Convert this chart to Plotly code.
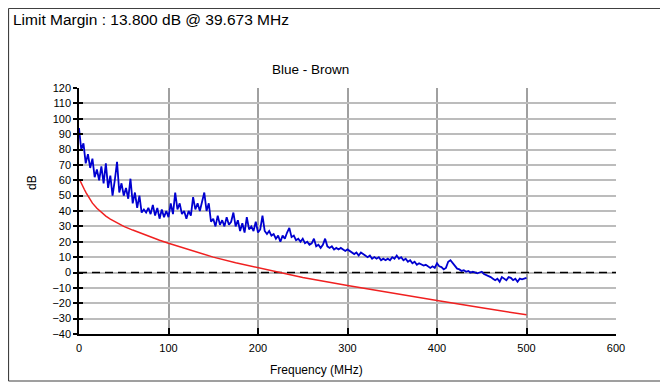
import numpy as np
import plotly.graph_objects as go

# Measured trace (Blue - Brown pair), sampled every 2.5 MHz from 0 to 500 MHz
blue_db = [
    94, 80, 84, 71, 77, 68, 74, 62, 67, 60,
    69, 58, 71, 55, 63, 50, 60, 72, 52, 58,
    50, 55, 48, 61, 45, 52, 42, 50, 39, 41,
    39, 42, 38, 44, 37, 42, 35, 41, 36, 40,
    36, 45, 38, 52, 41, 45, 38, 40, 35, 40,
    37, 49, 41, 45, 40, 47, 52, 40, 45, 33,
    35, 30, 37, 31, 34, 30, 36, 31, 33, 39,
    30, 34, 27, 32, 26, 36, 28, 30, 27, 33,
    26, 28, 37, 27, 25, 27, 24, 25, 22, 24,
    20, 24, 22, 26, 29, 23, 24, 21, 22, 20,
    22, 19, 20, 18, 19, 22, 17, 18, 16, 18,
    22, 17, 16, 17, 15, 16, 15, 16, 15, 14,
    15, 14, 13, 12, 13, 11, 13, 12, 11, 10,
    11, 9, 10, 9, 10, 8, 9, 8, 9, 8,
    10, 9, 11, 9, 10, 8, 9, 7, 8, 6,
    7, 5, 6, 5, 4.5, 5, 4, 3, 4, 3,
    6, 4, 3.5, 2, 3, 7, 8, 6, 4, 2.5,
    2, 1, 1.5, 0.5, 1, 0, 0.5, 0, -0.5, 0,
    0.5, -1, -1.5, -2.5, -3, -4, -5, -4, -6, -3,
    -4, -5, -3, -3.5, -5, -4, -6, -4, -4.5, -4,
    -3.5,
]
blue_freq = np.linspace(0, 500, len(blue_db))

# Limit line
limit_freq = [1, 2, 4, 6, 8, 10, 12.5, 15, 20, 25, 30, 35, 40, 50, 60, 70,
              80, 90, 100, 125, 150, 175, 200, 225, 250, 300, 350, 400, 450, 500]
limit_db = [60, 58.6, 56.2, 54, 51.8, 49.6, 47.2, 45.1, 41.8, 39, 36.7, 34.7,
            33, 30, 27.6, 25.3, 23.1, 21, 19, 14.3, 10, 6.3, 3, -0.3, -3.2,
            -8.5, -13.5, -18.2, -23, -27.5]

# Zero reference
ref_freq = [0, 600]
ref_db = [0, 0]

x_ticks = [0, 100, 200, 300, 400, 500, 600]
y_ticks = list(range(-40, 121, 10))

# page body has an 8px margin, so work in screen pixels minus that offset
OFF = 8
W, H = 668 - OFF, 384 - OFF
L, R, T, B = 79 - OFF, 52, 88 - OFF, 50
pw, ph = W - L - R, H - T - B


def px(x):
    return (x - OFF - L) / pw


def py(y):
    return (H - B - (y - OFF)) / ph


font = "Liberation Sans, Arial, sans-serif"

fig = go.Figure()
fig.add_trace(go.Scatter(x=ref_freq, y=ref_db, mode="lines",
                         line=dict(color="black", width=1.5, dash="8px,5px"),
                         hoverinfo="skip"))
fig.add_trace(go.Scatter(x=limit_freq, y=limit_db, mode="lines",
                         line=dict(color="#f02020", width=1.5)))
fig.add_trace(go.Scatter(x=blue_freq, y=blue_db, mode="lines",
                         line=dict(color="#0000d0", width=1.8)))
# inner tick stubs on the y axis
fig.add_trace(go.Scatter(x=[None], y=[None], yaxis="y2", showlegend=False))

fig.update_layout(
    width=W, height=H,
    margin=dict(l=L, r=R, t=T, b=B),
    showlegend=False,
    plot_bgcolor="white", paper_bgcolor="white",
    font=dict(family=font, size=11, color="black"),
    xaxis=dict(range=[0, 600], tickvals=x_ticks, ticks="inside", ticklen=6,
               tickcolor="black", tickwidth=1.5, showline=True,
               linecolor="black", linewidth=1.5, showgrid=True,
               gridcolor="#a0a0a0", gridwidth=1.5, zeroline=False,
               ticklabelstandoff=3),
    yaxis=dict(range=[-40, 120], tickvals=y_ticks, ticks="outside", ticklen=4,
               tickcolor="black", tickwidth=1.5, showline=True,
               linecolor="black", linewidth=1.5, showgrid=True,
               gridcolor="#bcbcbc", gridwidth=1.5, zeroline=False),
    yaxis2=dict(range=[-40, 120], tickvals=y_ticks, ticks="inside", ticklen=4,
                tickcolor="black", tickwidth=1.5, showticklabels=False,
                showgrid=False, zeroline=False, overlaying="y", side="left"),
)

# outer frame (left, top, bottom)
for x0, y0, x1, y1 in [(8.5, 8.5, 670, 8.5), (8.5, 381, 670, 381),
                       (8.5, 8.5, 8.5, 381)]:
    fig.add_shape(type="line", xref="paper", yref="paper",
                  x0=px(x0), y0=py(y0), x1=px(x1), y1=py(y1),
                  line=dict(color="#404040", width=1.2))

fig.add_annotation(text="Limit Margin : 13.800 dB @ 39.673 MHz",
                   xref="paper", yref="paper", x=px(11), y=py(19),
                   xanchor="left", yanchor="middle", showarrow=False,
                   font=dict(size=15.5))
fig.add_annotation(text="Blue - Brown", xref="paper", yref="paper",
                   x=px(310), y=py(69), xanchor="center", yanchor="middle",
                   showarrow=False, font=dict(size=13.5))
fig.add_annotation(text="Frequency (MHz)", xref="paper", yref="paper",
                   x=px(316), y=py(370), xanchor="center", yanchor="middle",
                   showarrow=False, font=dict(size=12))
fig.add_annotation(text="dB", xref="paper", yref="paper",
                   x=px(32), y=py(183), xanchor="center", yanchor="middle",
                   textangle=-90, showarrow=False, font=dict(size=12))

fig.write_html("out.html")
